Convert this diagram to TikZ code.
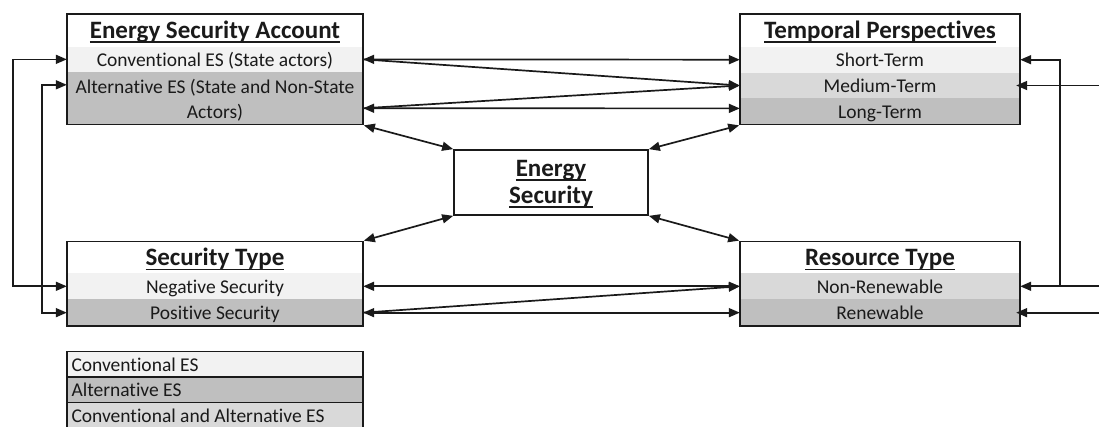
\documentclass[tikz,border=0pt]{standalone}
\usepackage{fontspec}
\setmainfont{Carlito}[Ligatures=NoCommon]
\usetikzlibrary{arrows.meta,calc}
\definecolor{rowlight}{HTML}{F2F2F2}
\definecolor{rowmid}{HTML}{D9D9D9}
\definecolor{rowdark}{HTML}{BFBFBF}
\definecolor{ink}{HTML}{1A1A1A}
% underline with a fixed depth, crossing the descenders
\newsavebox\ulbox
\newcommand\ulword[1]{\sbox\ulbox{#1}\rlap{\rule[-4.2pt]{\wd\ulbox}{1.6pt}}\usebox\ulbox}
% left-aligned key entry of fixed width
\newcommand\keytext[1]{\makebox[287pt][l]{#1}}
\tikzset{
  frame/.style={draw=ink, line width=1.7pt, inner sep=0pt},
  row/.style={inner sep=0pt, text height=14pt, text depth=0pt,
    font=\fontsize{19.5}{23}\selectfont, text=ink},
  head/.style={inner sep=0pt, text height=17pt, text depth=0pt,
    font=\fontsize{25}{30}\selectfont\bfseries, text=ink},
  keyrow/.style={row, draw=ink, line width=1.7pt,
    minimum width=296pt, minimum height=25.5pt},
  link/.style={draw=ink, line width=1.7pt},
  both/.style={link, {Triangle[length=11pt,width=9pt]}-{Triangle[length=11pt,width=9pt]}},
  tip/.style={link, -{Triangle[length=11pt,width=9pt]}},
}
\begin{document}
\begin{tikzpicture}[x=1pt,y=-1pt]
\useasboundingbox (0,0) rectangle (1099,426);

% ---- Energy Security Account ----
\node[head, minimum width=296pt, minimum height=32.7pt] (esaT) at (215,30.35) {\ulword{Energy Security Account}};
\node[row, fill=rowlight, minimum width=296pt, minimum height=25.3pt] (esaC) at (215,59.35) {Conventional ES (State actors)};
\node[row, fill=rowdark, minimum width=296pt, minimum height=52.5pt] (esaA) at (215,98.25) {};
\node[row, anchor=base] (esaA1) at (215,93.3) {Alternative ES (State and Non-State};
\node[row, anchor=base] (esaA2) at (215,118.3) {Actors)};
\node[frame, minimum width=296pt, minimum height=110.5pt] (esa) at (215,69.25) {};

% ---- Temporal Perspectives ----
\node[head, minimum width=280pt, minimum height=32.7pt] (tpT) at (880,30.35) {\ulword{Temporal Perspectives}};
\node[row, fill=rowlight, minimum width=280pt, minimum height=26pt] (tpS) at (880,59.7) {Short-Term};
\node[row, fill=rowmid, minimum width=280pt, minimum height=25.6pt] (tpM) at (880,85.5) {Medium-Term};
\node[row, fill=rowdark, minimum width=280pt, minimum height=26.2pt] (tpL) at (880,111.4) {Long-Term};
\node[frame, minimum width=280pt, minimum height=110.5pt] (tp) at (880,69.25) {};

% ---- Energy Security (centre) ----
\node[frame, minimum width=194pt, minimum height=65pt] (es) at (551,182.5) {};
\node[head, anchor=base] (esW1) at (551,176.7) {\ulword{Energy}};
\node[head, anchor=base] (esW2) at (551,203.4) {\ulword{Security}};

% ---- Security Type ----
\node[head, minimum width=296pt, minimum height=31.8pt] (stT) at (215,257.4) {\ulword{Security Type}};
\node[row, fill=rowlight, minimum width=296pt, minimum height=26pt] (stN) at (215,286.3) {Negative Security};
\node[row, fill=rowdark, minimum width=296pt, minimum height=26.7pt] (stP) at (215,312.65) {Positive Security};
\node[frame, minimum width=296pt, minimum height=84.5pt] (st) at (215,283.75) {};

% ---- Resource Type ----
\node[head, minimum width=280pt, minimum height=31.8pt] (rtT) at (880,257.4) {\ulword{Resource Type}};
\node[row, fill=rowmid, minimum width=280pt, minimum height=26pt] (rtN) at (880,286.3) {Non-Renewable};
\node[row, fill=rowdark, minimum width=280pt, minimum height=26.7pt] (rtR) at (880,312.65) {Renewable};
\node[frame, minimum width=280pt, minimum height=84.5pt] (rt) at (880,283.75) {};

% ---- key ----
\node[keyrow, fill=rowlight] (keyC) at (215,364.35) {\keytext{Conventional ES}};
\node[keyrow, fill=rowdark] (keyA) at (215,389.85) {\keytext{Alternative ES}};
\node[keyrow, fill=rowmid] (keyB) at (215,415.35) {\keytext{Conventional and Alternative ES}};

% ---- left feedback lines ----
\coordinate (lx1) at (13,0);
\coordinate (lx2) at (42,0);
\coordinate (esaAin) at ($(esaA.north west)+(0,13)$);
\draw[both] (esaC.west) -- (esaC.west -| lx1) -- (stN.west -| lx1) -- (stN.west);
\draw[both] (esaAin) -- (esaAin -| lx2) -- (stP.west -| lx2) -- (stP.west);

% ---- right feeds from beyond the edge ----
\coordinate (rx) at (1060,0);
\coordinate (edge) at (1105,0);
\draw[tip, shorten >=-4pt] (tpM.east -| edge) -- (tpM.east);
\draw[tip] (rtN.east -| edge) -- (rtN.east);
\draw[tip] (rtN.east -| rx) |- (tpS.east);
\draw[tip, shorten >=-4pt] (rtR.east -| edge) -- (rtR.east);

% ---- account <-> temporal ----
\coordinate (esaLow) at ($(esaA.east)+(0,10)$);
\coordinate (tpLow) at ($(tpL.west)+(0,-3)$);
\draw[both] (esaC.east) -- (tpS.west);
\draw[tip] (esaC.east) -- (tpM.west);
\draw[both] (esaLow) -- (tpLow);
\draw[tip] (esaLow) -- (tpM.west);

% ---- centre spokes ----
\draw[both] (esa.south east) -- (es.north west);
\draw[both] (tp.south west) -- (es.north east);
\draw[both] (es.south west) -- (st.north east);
\draw[both] (es.south east) -- (rt.north west);

% ---- security <-> resource ----
\draw[both] (stN.east) -- (rtN.west);
\draw[both] (stP.east) -- (rtR.west);
\draw[tip] (stP.east) -- (rtN.west);
\end{tikzpicture}
\end{document}
